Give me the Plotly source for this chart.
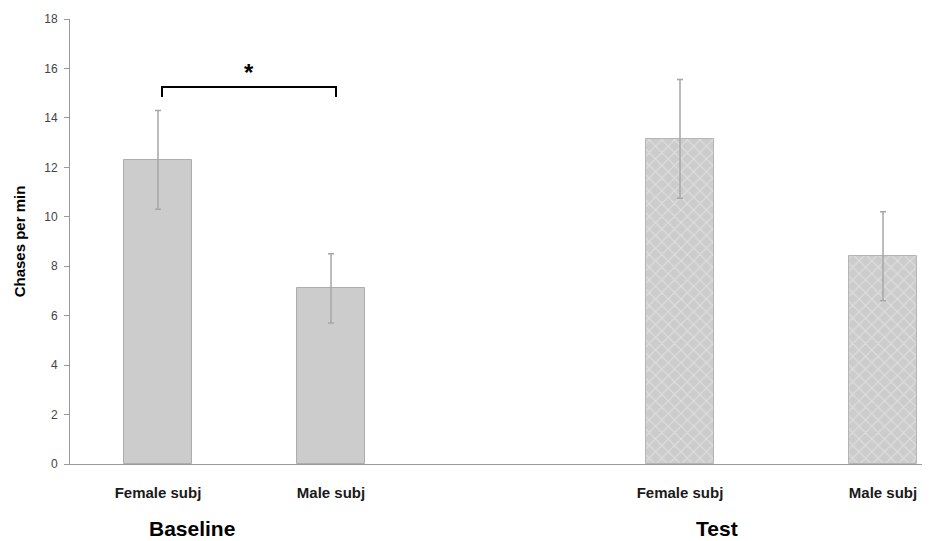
import plotly.graph_objects as go

# Data
groups = ["Baseline", "Baseline", "Test", "Test"]
tick_labels = ["Female subj", "Male subj", "Female subj", "Male subj"]
means = [12.3, 7.1, 13.15, 8.4]
errors = [2.0, 1.4, 2.4, 1.8]
x_pos = [88, 261, 610, 813]          # bar centres along the x axis (axis units)
group_labels = ["Baseline", "Test"]
group_label_x = [122, 647]
sig_pair = (92, 266)                 # bracket ends
sig_level = 15.25
sig_label = "*"

fig = go.Figure()

# Baseline bars (solid)
fig.add_trace(go.Bar(
    x=x_pos[:2], y=means[:2], width=68,
    marker=dict(color="#cccccc", line=dict(color="#adadad", width=1)),
    error_y=dict(type="data", array=errors[:2], color="#a6a6a6", thickness=1.5, width=3),
    showlegend=False,
))
# Test bars (crosshatch)
fig.add_trace(go.Bar(
    x=x_pos[2:], y=means[2:], width=68,
    marker=dict(color="#cccccc", line=dict(color="#b5b5b5", width=1),
                pattern=dict(shape="x", fgcolor="#f0f0f0", bgcolor="#cccccc",
                             size=9, solidity=0.25, fillmode="overlay")),
    error_y=dict(type="data", array=errors[2:], color="#a6a6a6", thickness=1.5, width=3),
    showlegend=False,
))

# significance bracket
fig.add_trace(go.Scatter(
    x=[sig_pair[0], sig_pair[0], sig_pair[1], sig_pair[1]],
    y=[sig_level - 0.4, sig_level, sig_level, sig_level - 0.4],
    mode="lines", line=dict(color="black", width=2), showlegend=False, hoverinfo="skip",
))
fig.add_annotation(x=(sig_pair[0] + sig_pair[1]) / 2, y=sig_level, text="<b>%s</b>" % sig_label,
                   showarrow=False, yanchor="middle", yshift=14,
                   font=dict(size=24, color="black", family="Liberation Sans"))

for lbl, gx in zip(group_labels, group_label_x):
    fig.add_annotation(x=gx, y=0, xref="x", yref="paper", text="<b>%s</b>" % lbl,
                       showarrow=False, yshift=-64, yanchor="middle",
                       font=dict(size=21, color="black", family="Liberation Sans"))

# page body has an 8px default margin, so the figure is sized/offset to compensate
fig.update_layout(
    width=922, height=533,
    margin=dict(l=62, r=0, t=11, b=77, autoexpand=False),
    plot_bgcolor="white", paper_bgcolor="white",
    bargap=0,
    xaxis=dict(range=[0, 860], tickvals=x_pos, ticktext=["<b>%s</b>" % t for t in tick_labels],
               showgrid=False, zeroline=False, showline=True, linecolor="#999999", linewidth=1,
               ticks="", automargin=False,
               tickfont=dict(size=15, color="#1a1a1a", family="Liberation Sans"),
               ticklabelstandoff=15),
    yaxis=dict(range=[0, 18], tickvals=list(range(0, 19, 2)), showgrid=False, zeroline=False,
               showline=True, linecolor="#999999", linewidth=1, ticks="outside", ticklen=5,
               tickcolor="#999999", automargin=False, ticklabelstandoff=4,
               tickfont=dict(size=12, color="#444444", family="Liberation Sans"),
               title=dict(text="<b>Chases per min</b>", standoff=14,
                          font=dict(size=15, color="black", family="Liberation Sans"))),
)

fig.write_html("out.html")
